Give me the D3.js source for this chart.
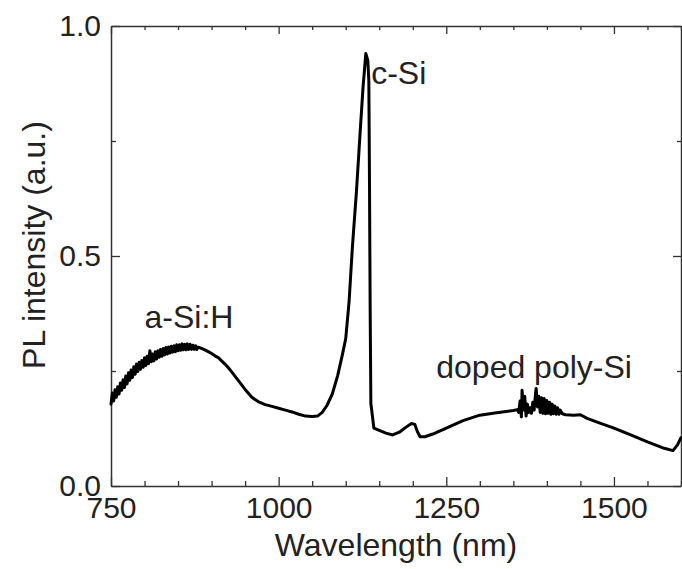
<!DOCTYPE html>
<html>
<head>
<meta charset="utf-8">
<script src="https://cdn.jsdelivr.net/npm/d3@7/dist/d3.min.js"></script>
<style>
  html, body { margin: 0; padding: 0; background: #fff; }
  svg { display: block; font-family: "Liberation Sans", Arial, sans-serif; }
</style>
</head>
<body>
<svg id="chart" width="682" height="569"></svg>
<script>
// PL spectrum: wavelength (nm) and normalised intensity (a.u.)
const wavelength = [
  750, 752, 754, 756, 758, 760, 762, 764, 766, 768,
  770, 772, 774, 776, 778, 780, 782, 784, 786, 788,
  790, 792, 794, 796, 798, 800, 802, 804, 806, 808,
  810, 812, 814, 816, 818, 820, 822, 824, 826, 828,
  830, 832, 834, 836, 838, 840, 842, 844, 846, 848,
  850, 852, 854, 856, 858, 860, 862, 864, 866, 868,
  870, 872, 874, 876, 878, 880, 885, 890, 895, 900,
  905, 910, 915, 920, 925, 930, 940, 950, 960, 970,
  980, 990, 1000, 1010, 1020, 1030, 1040, 1050, 1058, 1065,
  1072, 1080, 1088, 1095, 1100, 1105, 1110, 1116, 1122, 1126,
  1130, 1133, 1134.5, 1135.5, 1136.5, 1137.5, 1142, 1150, 1160, 1170,
  1180, 1190, 1198, 1203, 1207, 1211, 1218, 1230, 1250, 1275,
  1300, 1325, 1350, 1356, 1358, 1360, 1362, 1363, 1365, 1367,
  1369, 1371, 1373, 1375, 1377, 1379, 1381, 1383, 1384, 1386,
  1388, 1390, 1392, 1394, 1396, 1398, 1400, 1402, 1404, 1406,
  1408, 1410, 1412, 1414, 1416, 1418, 1420, 1423, 1428, 1440,
  1450, 1460, 1475, 1500, 1525, 1550, 1575, 1588, 1595, 1600
];
const intensity = [
  0.178, 0.202, 0.185, 0.209, 0.193, 0.216, 0.200, 0.224, 0.208, 0.231,
  0.214, 0.239, 0.222, 0.246, 0.230, 0.252, 0.236, 0.259, 0.243, 0.265,
  0.249, 0.269, 0.254, 0.273, 0.258, 0.279, 0.262, 0.282, 0.266, 0.294,
  0.270, 0.287, 0.272, 0.292, 0.276, 0.294, 0.280, 0.297, 0.282, 0.299,
  0.285, 0.301, 0.287, 0.302, 0.289, 0.304, 0.291, 0.305, 0.292, 0.307,
  0.294, 0.307, 0.295, 0.309, 0.296, 0.308, 0.296, 0.309, 0.297, 0.308,
  0.297, 0.306, 0.297, 0.305, 0.297, 0.302, 0.299, 0.296, 0.292, 0.288,
  0.283, 0.279, 0.272, 0.265, 0.257, 0.248, 0.229, 0.210, 0.193, 0.183,
  0.177, 0.173, 0.169, 0.165, 0.161, 0.156, 0.152, 0.151, 0.152, 0.160,
  0.175, 0.200, 0.240, 0.285, 0.320, 0.400, 0.520, 0.640, 0.780, 0.870,
  0.940, 0.925, 0.880, 0.650, 0.380, 0.180, 0.126, 0.121, 0.115, 0.111,
  0.117, 0.128, 0.136, 0.134, 0.118, 0.107, 0.107, 0.113, 0.126, 0.142,
  0.154, 0.159, 0.164, 0.166, 0.160, 0.185, 0.150, 0.208, 0.165, 0.195,
  0.152, 0.178, 0.160, 0.170, 0.158, 0.182, 0.165, 0.200, 0.212, 0.172,
  0.195, 0.160, 0.192, 0.158, 0.190, 0.157, 0.186, 0.158, 0.182, 0.156,
  0.178, 0.157, 0.174, 0.156, 0.170, 0.156, 0.165, 0.157, 0.155, 0.154,
  0.155, 0.147, 0.139, 0.126, 0.111, 0.096, 0.082, 0.077, 0.090, 0.105
];

const majorX = [750, 1000, 1250, 1500];
const minorX = [800, 850, 900, 950, 1050, 1100, 1150, 1200, 1300, 1350, 1400, 1450, 1550, 1600];
const majorY = [0, 0.5, 1.0];
const minorY = [0.25, 0.75];

const labels = [
  { text: "a-Si:H", wl: 800, y: 0.343 },
  { text: "c-Si", wl: 1138, y: 0.875 },
  { text: "doped poly-Si", wl: 1235, y: 0.235 }
];

const W = 682, H = 569;
const margin = { top: 26, right: 1, bottom: 83, left: 111 };

const svg = d3.select("#chart");
const x = d3.scaleLinear().domain([750, 1600]).range([margin.left, W - margin.right]);
const y = d3.scaleLinear().domain([0, 1]).range([H - margin.bottom, margin.top]);

const axisColor = "#333";
const textColor = "#222";

function styleAxis(g) {
  g.selectAll(".domain").attr("stroke", axisColor).attr("stroke-width", 1.5);
  g.selectAll(".tick line").attr("stroke", axisColor).attr("stroke-width", 1.3);
}

// bottom axis: major ticks with labels, minor ticks without
const gBottom = svg.append("g").attr("transform", `translate(0,${y(0)})`);
gBottom.call(d3.axisBottom(x).tickValues(majorX).tickSize(-9).tickSizeOuter(0).tickFormat(d3.format("d")));
gBottom.append("g").call(d3.axisBottom(x).tickValues(minorX).tickSize(-5).tickFormat(""))
  .select(".domain").remove();
gBottom.selectAll("text")
  .attr("y", 32).attr("dy", null)
  .attr("font-size", 30).attr("fill", textColor).attr("font-family", null);
styleAxis(gBottom);

// top axis (ticks only)
const gTop = svg.append("g").attr("transform", `translate(0,${y(1)})`);
gTop.call(d3.axisTop(x).tickValues(majorX).tickSize(-8).tickSizeOuter(0).tickFormat(""));
gTop.append("g").call(d3.axisTop(x).tickValues(minorX).tickSize(-4).tickFormat(""))
  .select(".domain").remove();
styleAxis(gTop);

// left axis
const gLeft = svg.append("g").attr("transform", `translate(${x(750)},0)`);
gLeft.call(d3.axisLeft(y).tickValues(majorY).tickSize(-9).tickSizeOuter(0).tickFormat(d3.format(".1f")));
gLeft.append("g").call(d3.axisLeft(y).tickValues(minorY).tickSize(-5).tickFormat(""))
  .select(".domain").remove();
gLeft.selectAll("text")
  .attr("x", -10).attr("dy", "0.33em")
  .attr("font-size", 30).attr("fill", textColor).attr("font-family", null);
styleAxis(gLeft);

// right axis (ticks only)
const gRight = svg.append("g").attr("transform", `translate(${x(1600)},0)`);
gRight.call(d3.axisRight(y).tickValues(majorY).tickSize(-8).tickSizeOuter(0).tickFormat(""));
gRight.append("g").call(d3.axisRight(y).tickValues(minorY).tickSize(-4).tickFormat(""))
  .select(".domain").remove();
styleAxis(gRight);

// spectrum
const pts = wavelength.map((w, i) => [w, intensity[i]]);
const line = d3.line().x(d => x(d[0])).y(d => y(d[1]));
svg.append("path")
  .datum(pts)
  .attr("d", line)
  .attr("fill", "none")
  .attr("stroke", "#000")
  .attr("stroke-width", 3)
  .attr("stroke-linejoin", "round")
  .attr("stroke-linecap", "round");

// peak annotations
svg.selectAll("text.ann")
  .data(labels)
  .join("text")
  .attr("class", "ann")
  .attr("x", d => x(d.wl))
  .attr("y", d => y(d.y))
  .attr("font-size", 32)
  .attr("fill", textColor)
  .text(d => d.text);

// axis titles
svg.append("text")
  .attr("x", (x(750) + x(1600)) / 2)
  .attr("y", 556)
  .attr("text-anchor", "middle")
  .attr("font-size", 32)
  .attr("fill", textColor)
  .text("Wavelength (nm)");

svg.append("text")
  .attr("transform", `translate(45,245) rotate(-90)`)
  .attr("text-anchor", "middle")
  .attr("font-size", 32)
  .attr("fill", textColor)
  .text("PL intensity (a.u.)");
</script>
</body>
</html>
